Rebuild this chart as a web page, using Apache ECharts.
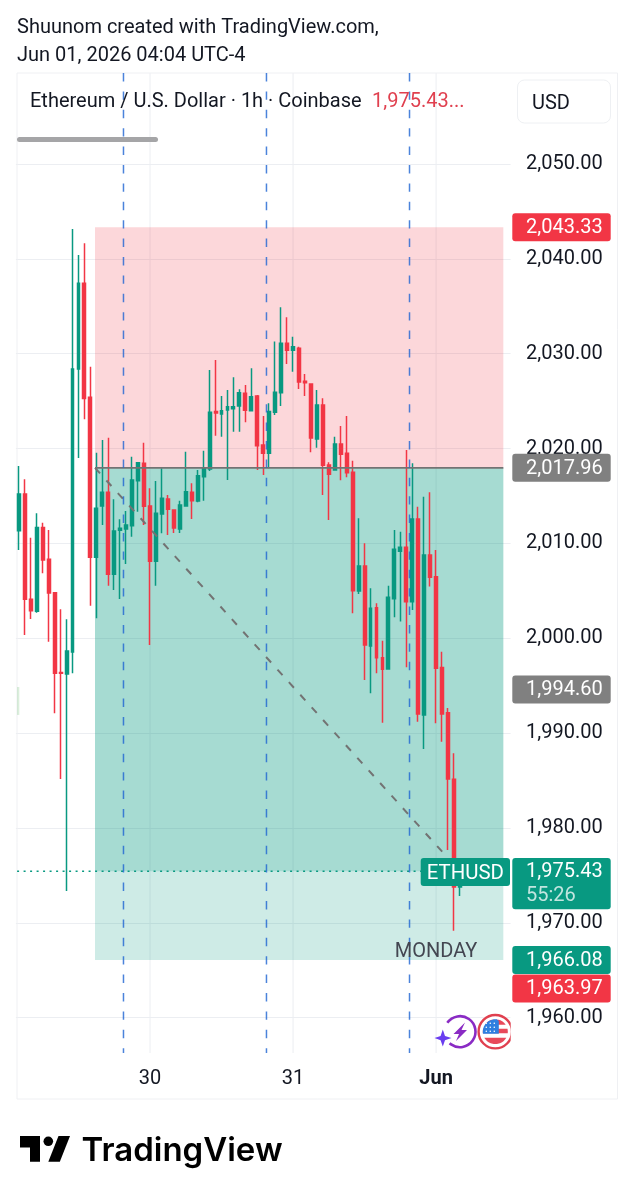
<!DOCTYPE html>
<html>
<head>
<meta charset="utf-8">
<title>ETHUSD 1h</title>
<style>
  html, body { margin: 0; padding: 0; background: #fff; }
  #chart { width: 634px; height: 1200px; }
</style>
<script src="https://cdn.jsdelivr.net/npm/echarts@6/dist/echarts.min.js"></script>
</head>
<body>
<div id="chart"></div>
<script>
// Hourly ETH/USD candles
const opens = [2011.34,2015.21,2004.11,2002.84,2011.66,2008.32,2004.80,1996.39,1996.23,1998.55,2028.39,2037.42,2025.40,2008.53,2013.94,2015.39,2006.74,2011.38,2011.52,2011.87,2016.61,2018.44,2013.94,2008.11,2013.10,2014.68,2013.52,2011.52,2013.94,2015.39,2014.47,2017.03,2017.84,2023.89,2023.64,2024.06,2024.20,2024.49,2025.83,2023.99,2025.54,2020.37,2019.50,2023.82,2025.89,2031.10,2030.36,2030.57,2027.09,2026.81,2021.01,2024.59,2018.27,2017.74,2020.48,2019.50,2017.50,2004.98,2007.62,1999.18,2003.22,1997.95,1996.76,2004.17,2009.17,2009.59,2003.85,2012.57,1991.91,2008.78,2006.49,1996.90,1992.15,1985.13,1973.77];
const closes = [2015.21,2004.11,2002.90,2011.66,2008.25,2004.77,1996.31,1996.31,1998.66,2028.39,2037.42,2025.26,2008.53,2013.70,2015.39,2006.74,2011.31,2011.59,2011.94,2016.68,2018.51,2013.91,2008.11,2013.17,2014.75,2013.59,2011.62,2014.05,2015.45,2014.50,2017.14,2017.92,2023.82,2023.75,2023.99,2024.41,2024.41,2025.89,2024.03,2025.47,2020.30,2019.50,2023.89,2025.93,2031.10,2030.36,2030.74,2027.02,2026.94,2021.11,2024.59,2018.23,2017.29,2020.48,2019.39,2017.45,2005.01,2007.62,1999.29,2003.16,1997.95,1996.73,2004.32,2009.38,2009.59,2003.85,2012.57,1992.01,2008.78,2006.43,1996.83,1992.01,1985.16,1973.77,1975.43];
const lows = [2009.30,2000.34,2002.03,2002.69,2006.85,1999.64,1992.09,1985.16,1973.35,1996.31,2019.00,2023.08,2003.43,2002.10,2011.94,2005.54,2005.09,2004.14,2007.83,2010.71,2013.34,2011.94,1999.29,2005.54,2011.06,2010.89,2011.10,2011.10,2013.87,2012.57,2014.33,2014.50,2017.63,2021.35,2021.25,2016.68,2021.78,2021.78,2022.77,2023.99,2017.74,2017.21,2017.92,2023.54,2024.49,2028.91,2028.10,2026.28,2025.54,2019.60,2020.09,2015.10,2012.47,2017.74,2016.65,2016.97,2002.63,2004.67,1995.60,1994.20,1996.31,1991.10,1996.76,2002.21,2001.75,1996.94,2002.98,1991.20,1988.32,2005.44,1991.03,1989.09,1977.68,1969.17,1972.83];
const highs = [2018.16,2016.76,2010.60,2013.17,2012.18,2011.41,2004.80,2003.05,2002.00,2043.15,2040.41,2041.64,2028.63,2019.56,2020.90,2021.14,2014.65,2012.54,2013.42,2019.14,2018.51,2020.62,2015.81,2016.58,2017.92,2015.10,2013.52,2014.50,2019.67,2016.34,2017.74,2019.77,2028.28,2029.34,2025.54,2026.17,2027.51,2026.25,2026.70,2028.46,2025.65,2023.43,2024.77,2031.27,2034.89,2033.84,2031.79,2030.74,2027.86,2026.81,2026.17,2025.30,2018.55,2021.25,2022.38,2023.43,2018.72,2012.65,2010.01,2005.27,2003.68,1999.74,2005.54,2011.41,2011.23,2019.85,2018.44,2013.87,2014.92,2015.39,2009.30,1998.58,1992.65,1987.87,1975.43];

// Time axis: one slot per hour, with room to the right of the last candle
const slotCount = 83;
const dayTicks = { 22: '30', 46: '31', 70: 'Jun' };
const dayGridSlots = [22, 46, 70];
const sessionMarkerSlots = [17.55, 41.54, 65.54];

// Short position drawing
const targetPrice = 2043.33;
const entryPrice = 2017.96;
const lastPrice = 1975.43;
const stopPrice = 1966.08;
const positionStartSlot = 12.77;
const positionEndSlot = 81.28;
const tradeEndSlot = 74;
const mondayPrice = 1966.92;

// Price scale tags at the right edge
const tagPrices = [2043.33, 2017.96, 1994.60, 1966.08, 1963.97];
const tagColors = ['#f23645', '#808080', '#808080', '#089981', '#f23645'];
const tagShifts = [0, 0, 0, 0, 8.5];

const GREEN = '#089981', RED = '#f23645', TEXT = '#131722', DRAWING_GREY = '#737373';
const FONT = 'Roboto, sans-serif';
const money = v => v.toLocaleString('en-US', { minimumFractionDigits: 2, maximumFractionDigits: 2 });

const categories = Array.from({ length: slotCount }, (_, i) => dayTicks[i] || String(i));
const candles = opens.map((o, i) => [o, closes[i], lows[i], highs[i]]);

const chart = echarts.init(document.getElementById('chart'), null, { renderer: 'canvas' });

const GRID = { left: 15.9, top: 73, width: 494.7, height: 980 };

// Translucent position areas and the small stray strip at the left edge
const areas = [
  [positionStartSlot, positionEndSlot, targetPrice, entryPrice, 'rgba(242,54,69,0.2)'],
  [positionStartSlot, positionEndSlot, entryPrice, stopPrice, 'rgba(8,153,129,0.2)'],
  [positionStartSlot, positionEndSlot, entryPrice, lastPrice, 'rgba(8,153,129,0.2)'],
  [-0.32, 0.07, 1994.86, 1991.91, 'rgba(76,175,80,0.2)']
];

function renderArea(params, api) {
  const a = areas[params.dataIndex];
  const p0 = api.coord([a[0], a[2]]), p1 = api.coord([a[1], a[3]]);
  return { type: 'rect', shape: { x: p0[0], y: p0[1], width: p1[0] - p0[0], height: p1[1] - p0[1] }, style: { fill: a[4] } };
}

function renderDayGrid(params, api) {
  const slot = dayGridSlots[params.dataIndex];
  const top = api.coord([slot, 2059.59]), bottom = api.coord([slot, 1956.27]);
  return { type: 'line', shape: { x1: top[0], y1: top[1], x2: bottom[0], y2: bottom[1] }, style: { stroke: '#eceef2', lineWidth: 1 } };
}

function renderSessionMarker(params, api) {
  const slot = sessionMarkerSlots[params.dataIndex];
  const top = api.coord([slot, 2059.59]), bottom = api.coord([slot, 1956.27]);
  return { type: 'line', shape: { x1: top[0], y1: top[1], x2: bottom[0], y2: bottom[1] },
    style: { stroke: 'rgba(30,100,210,0.8)', lineWidth: 1.5, lineDash: [8.4, 10] } };
}

function renderTradeLines(params, api) {
  const a = api.coord([positionStartSlot, entryPrice]);
  const b = api.coord([positionEndSlot, entryPrice]);
  const c = api.coord([tradeEndSlot, lastPrice]);
  const d = api.coord([-0.3, lastPrice]);
  const e = api.coord([68, lastPrice]);
  return { type: 'group', children: [
    { type: 'line', shape: { x1: a[0], y1: a[1], x2: b[0], y2: b[1] }, style: { stroke: DRAWING_GREY, lineWidth: 1.6 } },
    { type: 'line', shape: { x1: a[0], y1: a[1], x2: c[0], y2: c[1] }, style: { stroke: DRAWING_GREY, lineWidth: 2, lineDash: [7.5, 9.5] } },
    { type: 'line', shape: { x1: d[0], y1: d[1], x2: e[0], y2: e[1] }, style: { stroke: GREEN, lineWidth: 1.3, lineDash: [2, 4.5] } }
  ] };
}

function renderTags(params, api) {
  const y = api.coord([0, tagPrices[params.dataIndex]])[1] + tagShifts[params.dataIndex];
  return { type: 'group', children: [
    { type: 'rect', shape: { x: 512.3, y: y - 14, width: 98.4, height: 28, r: 3 }, style: { fill: tagColors[params.dataIndex] } },
    { type: 'text', style: { x: 526, y: y + 1, text: money(tagPrices[params.dataIndex]), font: '20px ' + FONT, fill: '#fff', verticalAlign: 'middle', align: 'left' } }
  ] };
}

function renderLastTag(params, api) {
  const y = api.coord([0, lastPrice])[1];
  const m = api.coord([positionEndSlot - 9, mondayPrice]);
  return { type: 'group', children: [
    { type: 'rect', shape: { x: 420.7, y: y - 13.3, width: 89.3, height: 28, r: 3 }, style: { fill: GREEN } },
    { type: 'text', style: { x: 465.3, y: y + 3, text: 'ETHUSD', font: '20.4px ' + FONT, fill: '#fff', align: 'center', verticalAlign: 'middle' } },
    { type: 'rect', shape: { x: 512.3, y: y - 13.3, width: 98.4, height: 51.3, r: 3 }, style: { fill: GREEN } },
    { type: 'text', style: { x: 526, y: y + 1, text: money(lastPrice), font: '20px ' + FONT, fill: '#fff', verticalAlign: 'middle', align: 'left' } },
    { type: 'text', style: { x: 526, y: y + 25, text: '55:26', font: '20px ' + FONT, fill: 'rgba(255,255,255,0.75)', verticalAlign: 'middle', align: 'left' } },
    { type: 'text', style: { x: 436, y: m[1], text: 'MONDAY', font: '20px ' + FONT, fill: '#434651', align: 'center', verticalAlign: 'middle' } }
  ] };
}

function customSeries(count, renderItem, z) {
  return {
    type: 'custom', xAxisIndex: 1, yAxisIndex: 0, z, silent: true, animation: false,
    data: Array.from({ length: count }, (_, i) => [i]), encode: { x: 0 }, renderItem
  };
}

// Horizontal scanline polygon for part of a disc, used for the flag badge
function discBand(cx, cy, r, y1, y2, xMax) {
  const left = [], right = [];
  for (let y = y1; y <= y2 + 0.001; y += (y2 - y1) / 8) {
    const dx = Math.sqrt(Math.max(0, r * r - (y - cy) * (y - cy)));
    left.push([cx - dx, y]);
    right.unshift([Math.min(cx + dx, xMax === undefined ? Infinity : xMax), y]);
  }
  return left.concat(right);
}

const fcx = 495.3, fcy = 1031.7, fr = 12.5;

// Star field on the flag's blue corner
const flagStars = [];
[-8.5, -4.5, -0.5].forEach(dy => [-9, -5, -1].forEach(dx => flagStars.push({
  type: 'circle', shape: { cx: fcx + dx, cy: fcy + dy, r: 0.8 }, style: { fill: '#fff' }, z: 23
})));

const overlayText = [
  { type: 'text', left: 17, top: 18, style: { text: 'Shuunom created with TradingView.com,', font: '20px ' + FONT, fill: TEXT } },
  { type: 'text', left: 17, top: 46, style: { text: 'Jun 01, 2026 04:04 UTC-4', font: '20px ' + FONT, fill: TEXT } },
  { type: 'text', left: 30, top: 92, style: { text: 'Ethereum / U.S. Dollar · 1h · Coinbase', font: '20px ' + FONT, fill: TEXT } },
  { type: 'text', left: 372, top: 92, style: { text: '1,975.43...', font: '20px ' + FONT, fill: '#e0404f' } }
];

const frame = [
  { type: 'rect', shape: { x: 17, y: 73, width: 600.5, height: 1026 }, style: { fill: 'none', stroke: '#eff0f3', lineWidth: 1 }, z: 1 },
  { type: 'rect', shape: { x: 517.5, y: 80, width: 93, height: 43, r: 7 }, style: { fill: '#fff', stroke: '#eef0f3', lineWidth: 1 }, z: 10 },
  { type: 'text', left: 532, top: 94, style: { text: 'USD', font: '20px ' + FONT, fill: TEXT }, z: 11 },
  { type: 'rect', shape: { x: 17, y: 137, width: 141, height: 5, r: 2.5 }, style: { fill: '#a5a5a7' }, z: 10 }
];

const badges = [
  // Lightning badge with its sparkle
  { type: 'arc', shape: { cx: 460, cy: 1031.7, r: 15.5, startAngle: 215 * Math.PI / 180, endAngle: 492 * Math.PI / 180, clockwise: true }, style: { stroke: '#8a2bc4', lineWidth: 2.6, fill: 'none' }, z: 20 },
  { type: 'polygon', shape: { points: [[465, 1022.5], [453.5, 1034], [459, 1034], [456, 1041], [467, 1030], [461.5, 1030]] }, style: { fill: '#8a2bc4' }, z: 20 },
  { type: 'polygon', shape: { points: [[442.8, 1029.5], [445, 1036], [451.5, 1038], [445, 1040.2], [442.8, 1046.5], [440.6, 1040.2], [434.5, 1038], [440.6, 1036]] }, style: { fill: '#6a3df0' }, z: 20 },
  // Flag badge
  { type: 'circle', shape: { cx: fcx, cy: fcy, r: 16.7 }, style: { fill: '#fff', stroke: '#e0404f', lineWidth: 2.4 }, z: 20 },
  { type: 'polygon', shape: { points: discBand(fcx, fcy, fr, fcy - 12, fcy - 7) }, style: { fill: '#e8495a' }, z: 21 },
  { type: 'polygon', shape: { points: discBand(fcx, fcy, fr, fcy - 3, fcy + 1.5) }, style: { fill: '#e8495a' }, z: 21 },
  { type: 'polygon', shape: { points: discBand(fcx, fcy, fr, fcy + 6, fcy + 12.4) }, style: { fill: '#e8495a' }, z: 21 },
  { type: 'polygon', shape: { points: discBand(fcx, fcy, fr, fcy - 12.4, fcy + 2, fcx + 3.5) }, style: { fill: '#2f7fe0' }, z: 22 },
  ...flagStars,
  // Badge row is cut off where the price scale begins
  { type: 'rect', shape: { x: 510.7, y: 1010, width: 12, height: 40 }, style: { fill: '#fff' }, z: 24 }
];

const logo = [
  { type: 'polygon', shape: { points: [[20, 1136], [40, 1136], [40, 1161.7], [30, 1161.7], [30, 1147.5], [20, 1147.5]] }, style: { fill: '#000' } },
  { type: 'circle', shape: { cx: 48.3, cy: 1141.3, r: 4.8 }, style: { fill: '#000' } },
  { type: 'polygon', shape: { points: [[58.5, 1136], [70, 1136], [59.8, 1161.7], [48.3, 1161.7]] }, style: { fill: '#000' } },
  { type: 'text', left: 81.5, top: 1135, style: { text: 'TradingView', font: '600 33px Inter, sans-serif', fill: '#000' } }
];

chart.setOption({
  animation: false,
  backgroundColor: '#fff',
  grid: Object.assign({ containLabel: false }, GRID),
  xAxis: [
    {
      type: 'category',
      data: categories,
      boundaryGap: true,
      axisLine: { show: false },
      axisTick: { show: false },
      splitLine: { show: false },
      axisLabel: {
        interval: i => i in dayTicks,
        margin: 16,
        fontFamily: FONT,
        fontSize: 20,
        color: TEXT,
        formatter: (v, i) => i === 70 ? '{month|' + v + '}' : v,
        rich: { month: { fontFamily: FONT, fontSize: 20, fontWeight: 'bold', color: TEXT } }
      }
    },
    { type: 'value', show: false, min: -0.5, max: slotCount - 0.5, splitLine: { show: false } }
  ],
  yAxis: {
    type: 'value',
    position: 'right',
    min: 1956.27,
    max: 2059.59,
    splitNumber: 10,
    axisLine: { show: false },
    axisTick: { show: false },
    splitLine: { show: true, showMinLine: false, showMaxLine: false, lineStyle: { color: '#eceef2', width: 1 } },
    axisLabel: {
      margin: 15.4,
      showMinLabel: false,
      showMaxLabel: false,
      fontFamily: FONT,
      fontSize: 20,
      color: TEXT,
      formatter: v => money(v)
    }
  },
  series: [
    customSeries(dayGridSlots.length, renderDayGrid, 0),
    customSeries(areas.length, renderArea, 1),
    {
      type: 'candlestick',
      xAxisIndex: 0,
      yAxisIndex: 0,
      data: candles,
      z: 3,
      barWidth: 3.4,
      silent: true,
      itemStyle: {
        color: GREEN, color0: RED, borderColor: GREEN, borderColor0: RED, borderColorDoji: RED, borderWidth: 1.5
      }
    },
    customSeries(1, renderTradeLines, 4),
    customSeries(sessionMarkerSlots.length, renderSessionMarker, 5),
    customSeries(tagPrices.length, renderTags, 6),
    customSeries(1, renderLastTag, 7)
  ],
  graphic: { elements: [...frame, ...overlayText.map(t => Object.assign({ z: 15 }, t)), ...badges, ...logo] }
});
</script>
</body>
</html>
